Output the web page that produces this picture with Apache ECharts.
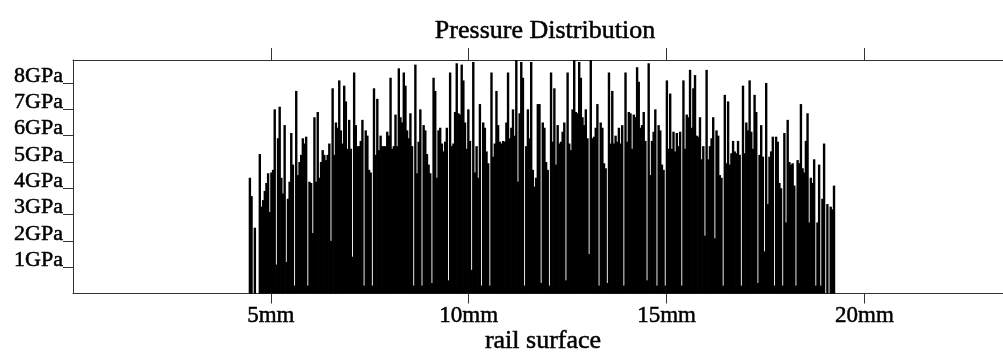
<!DOCTYPE html>
<html><head><meta charset="utf-8">
<script src="https://cdn.jsdelivr.net/npm/echarts@6/dist/echarts.min.js"></script>
<style>html,body{margin:0;padding:0;background:#fff}#c{width:1003px;height:354px}</style>
</head><body><div id="c"></div>
<script>
const TITLE = 'Pressure Distribution';
const X_NAME = 'rail surface';
const X_TICKS = [5, 10, 15, 20];
const Y_TICKS = [1, 2, 3, 4, 5, 6, 7, 8];
const X_START = 4.47;   // mm, first sample
const X_END = 19.23;    // mm, last sample
// pressure samples (GPa) along the rail surface
const pressureGPa = [
  4.4, 3.7, 0, 2.5, 0, 0, 5.3, 3.3, 3.55, 3.9, 4.2, 4.57, 3.1, 4.6, 4.7, 7.0, 1.1, 5.9, 7.1, 4.4,
  3.8, 6.4, 1.2, 3.6, 4.25, 6.1, 4.9, 0.3, 7.7, 4.5, 5.0, 5.27, 5.9, 5.7, 5.96, 0.3, 4.25, 4.2, 2.3, 6.7,
  4.25, 6.9, 4.4, 5.0, 5.45, 5.27, 5.07, 5.27, 5.7, 2.0, 7.8, 5.27, 6.5, 6.3, 8.1, 6.2,
  5.7, 7.9, 7.3, 5.5, 6.6, 5.5, 1.4, 8.4, 6.4, 5.6, 5.6, 5.8, 6.6, 0.3, 6.2, 6.0, 4.7, 4.6, 0.3, 7.8,
  5.27, 7.4, 5.45, 6.0, 5.6, 5.6, 5.6, 6.15, 6.0, 8.2, 5.5, 5.6, 6.8, 5.6, 8.56, 6.7, 6.5, 8.4, 7.9, 6.2,
  5.9, 6.85, 5.6, 0.3, 8.7, 4.57, 5.77, 7.0, 0.3, 6.4, 6.2, 5.3, 4.9, 4.57, 0.4, 8.2, 7.7, 4.4, 6.2,
  6.3, 5.7, 5.4, 5.77, 6.3, 0.5, 8.4, 5.6, 5.7, 6.9, 8.75, 6.85, 6.8, 8.7, 8.1, 6.5, 5.5, 7.0, 5.8, 0.9,
  8.8, 4.6, 5.6, 4.4, 7.2, 0.3, 6.5, 6.3, 5.4, 4.95, 0.3, 8.4, 5.2, 5.7, 7.7, 6.4, 5.77, 5.7, 5.8, 5.77,
  6.5, 8.4, 5.9, 6.3, 7.0, 6.0, 8.9, 4.25, 6.85, 8.8, 8.2, 0.3, 5.6, 7.0, 5.9, 8.8, 4.7, 4.06, 4.4, 7.2,
  7.2, 0.4, 6.5, 6.3, 5.0, 4.7, 0.3, 8.4, 5.77, 7.8, 4.9, 6.4, 5.7, 5.77, 6.15, 6.5, 0.5, 8.4, 5.7, 5.45,
  7.0, 8.9, 6.9, 6.85, 8.8, 8.2, 6.7, 6.4, 7.0, 5.9, 1.5, 8.9, 5.9, 5.96, 6.3, 7.2, 0.3, 6.5, 6.3, 4.95,
  4.76, 0.4, 8.4, 5.7, 7.7, 5.7, 6.0, 5.77, 6.3, 5.7, 6.4, 0.3, 8.4, 5.77, 6.9, 6.85, 5.5, 6.8, 6.7,
  8.6, 8.05, 6.3, 6.4, 6.9, 5.8, 0.5, 8.75, 4.5, 5.8, 6.15, 7.0, 0.3, 6.4, 6.2, 4.9, 4.7, 0.3, 8.1, 5.5,
  7.6, 5.5, 6.15, 5.4, 6.1, 5.6, 6.15, 0.3, 8.1, 5.5, 6.8, 6.7, 8.5, 6.3, 7.8, 8.3, 6.0, 5.96, 6.7, 5.1,
  5.6, 2.2, 8.5, 5.1, 5.6, 5.9, 6.7, 2.1, 6.2, 6.0, 4.5, 4.4, 0.3, 7.55, 4.95, 7.3, 4.9, 5.33, 5.8,
  5.4, 5.33, 5.8, 5.27, 0.3, 7.9, 5.33, 6.5, 6.2, 8.1, 6.15, 5.5, 7.55, 6.9, 0.4, 5.27, 6.4, 5.2, 1.6, 8.0,
  3.4, 5.2, 5.4, 5.96, 0.3, 5.96, 5.77, 4.2, 4.0, 0.3, 6.1, 2.7, 6.6, 5.0, 4.9, 4.95, 4.1, 0.3, 5.07, 4.95,
  7.2, 4.76, 4.6, 5.8, 6.85, 2.7, 4.4, 4.2, 5.1, 0.3, 2.7, 4.9, 0.3, 3.6, 5.7, 0, 3.4, 0, 3.3, 3.2, 4.1
];

const step = (X_END - X_START) / (pressureGPa.length - 1);
const seriesData = pressureGPa.map((v, i) => [X_START + i * step, v]);

const FONT = '"Liberation Serif", "DejaVu Serif", serif';
const AXIS_COLOR = '#333';
const heavy = { textBorderColor: '#000', textBorderWidth: 0.5 };

const chart = echarts.init(document.getElementById('c'), null, { renderer: 'canvas' });
chart.setOption({
  animation: false,
  backgroundColor: '#fff',
  title: [
    { text: TITLE, left: 540, top: 13, textAlign: 'center',
      textStyle: Object.assign({ fontFamily: FONT, fontSize: 26, fontWeight: 'normal', color: '#000' }, heavy) },
    { text: X_NAME, left: 538, top: 323, textAlign: 'center',
      textStyle: Object.assign({ fontFamily: FONT, fontSize: 26, fontWeight: 'normal', color: '#000' }, heavy) }
  ],
  grid: { left: 73, top: 60, right: 0, height: 233.5, containLabel: false },
  xAxis: [
    { type: 'value', min: 0, max: 23.5, position: 'bottom',
      axisLine: { show: true, onZero: false, lineStyle: { color: AXIS_COLOR, width: 1 } },
      axisTick: { show: true, customValues: X_TICKS, length: 10, lineStyle: { color: AXIS_COLOR } },
      axisLabel: Object.assign({ customValues: X_TICKS, formatter: '{value}mm', margin: 11,
        fontFamily: FONT, fontSize: 23, color: '#000' }, heavy),
      splitLine: { show: false } },
    { type: 'value', min: 0, max: 23.5, position: 'top',
      axisLine: { show: true, onZero: false, lineStyle: { color: AXIS_COLOR, width: 1 } },
      axisTick: { show: true, customValues: X_TICKS, length: 12, lineStyle: { color: AXIS_COLOR } },
      axisLabel: { show: false },
      splitLine: { show: false } }
  ],
  yAxis: {
    type: 'value', min: 0, max: 8.875,
    axisLine: { show: true, lineStyle: { color: AXIS_COLOR, width: 1 } },
    axisTick: { show: true, customValues: Y_TICKS, length: 10, lineStyle: { color: AXIS_COLOR } },
    axisLabel: Object.assign({ customValues: Y_TICKS, formatter: '{value}GPa', margin: 10,
      fontFamily: FONT, fontSize: 22, color: '#000', verticalAlign: 'bottom', lineHeight: 22,
      padding: [0, 0, -4, 0] }, heavy),
    splitLine: { show: false }
  },
  series: [{
    type: 'bar', xAxisIndex: 0, yAxisIndex: 0,
    data: seriesData, barWidth: 2.4,
    itemStyle: { color: '#000' }
  }]
});
</script>
</body></html>
